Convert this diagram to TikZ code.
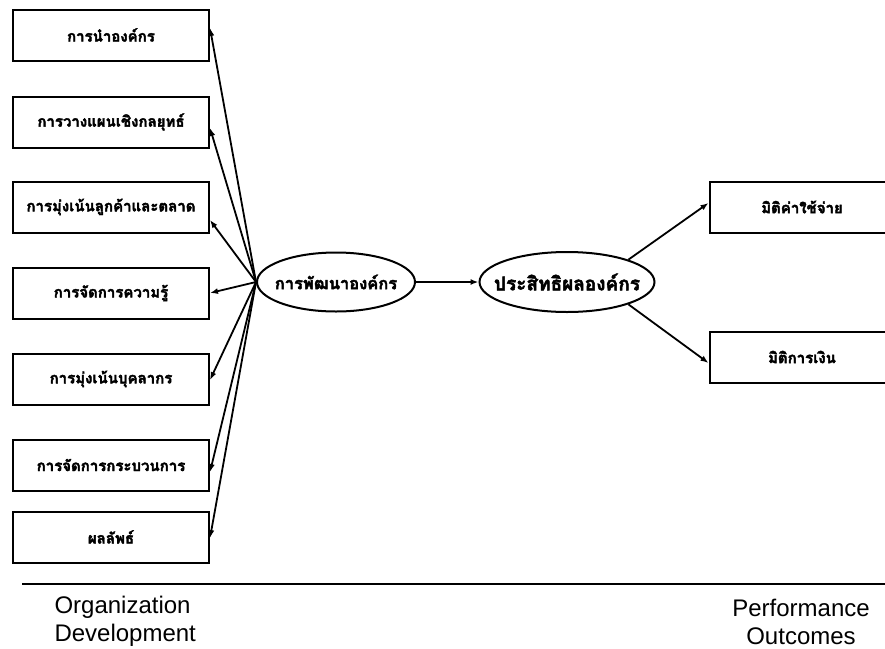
\documentclass[tikz,border=0pt]{standalone}
\usepackage{fontspec}
\setmainfont{Liberation Sans}
\newfontfamily\thaifont[Script=Thai,FakeBold=2.5]{Loma}
\usetikzlibrary{arrows.meta,shapes.geometric}
\begin{document}
\begin{tikzpicture}[x=1pt,y=-1pt,
  box/.style={draw, line width=2pt, minimum width=196pt, minimum height=51pt, inner sep=0pt,
    font=\thaifont\bfseries\fontsize{15}{17}\selectfont},
  oval/.style={ellipse, draw, line width=2pt, inner ysep=0pt, inner xsep=-14pt,
    font=\thaifont\bfseries\fontsize{16.5}{18}\selectfont},
  arr/.style={line width=1.8pt, -{Latex[length=8pt,width=6pt]}},
  captext/.style={font=\fontsize{24}{28}\selectfont}]
\useasboundingbox (0,0) rectangle (885,648);
\node[box] (b1) at (111,35) {การนำองค์กร};
\node[box] (b2) at (111,122) {การวางแผนเชิงกลยุทธ์};
\node[box] (b3) at (111,207) {การมุ่งเน้นลูกค้าและตลาด};
\node[box] (b4) at (111,293) {การจัดการความรู้};
\node[box] (b5) at (111,379) {การมุ่งเน้นบุคลากร};
\node[box] (b6) at (111,465) {การจัดการกระบวนการ};
\node[box] (b7) at (111,537) {ผลลัพธ์};
\node[oval, minimum width=158pt, minimum height=59pt] (e1) at (336,282) {การพัฒนาองค์กร};
\node[oval, minimum width=175pt, minimum height=60pt, font=\thaifont\bfseries\fontsize{19}{21}\selectfont] (e2) at (567,282) {ประสิทธิผลองค์กร};
\node[box, minimum width=185pt] (r1) at (802,207) {มิติค่าใช้จ่าย};
\node[box, minimum width=185pt] (r2) at (802,357) {มิติการเงิน};
\draw[arr] (e1.west) -- ([yshift=7pt]b1.east);
\draw[arr] (e1.west) -- ([yshift=-6pt]b2.east);
\draw[arr] (e1.west) -- ([yshift=-13pt]b3.east);
\draw[arr] (e1.west) -- (b4.east);
\draw[arr] (e1.west) -- ([yshift=-1pt]b5.east);
\draw[arr] (e1.west) -- ([yshift=-7pt]b6.east);
\draw[arr] (e1.west) -- ([yshift=-1pt]b7.east);
\draw[arr] (e1.east) -- (e2.west);
\draw[arr] (e2.20) -- ([yshift=4pt]r1.west);
\draw[arr] (e2.-20) -- ([yshift=-6pt]r2.west);
\coordinate (l1) at (22,584);
\coordinate (l2) at (885,584);
\draw[line width=2pt] (l1) -- (l2);
\node[captext, align=left, anchor=west] (od) at (51,621) {Organization\\Development};
\node[captext, align=center] (po) at (801,622) {Performance\\Outcomes};
\end{tikzpicture}
\end{document}
